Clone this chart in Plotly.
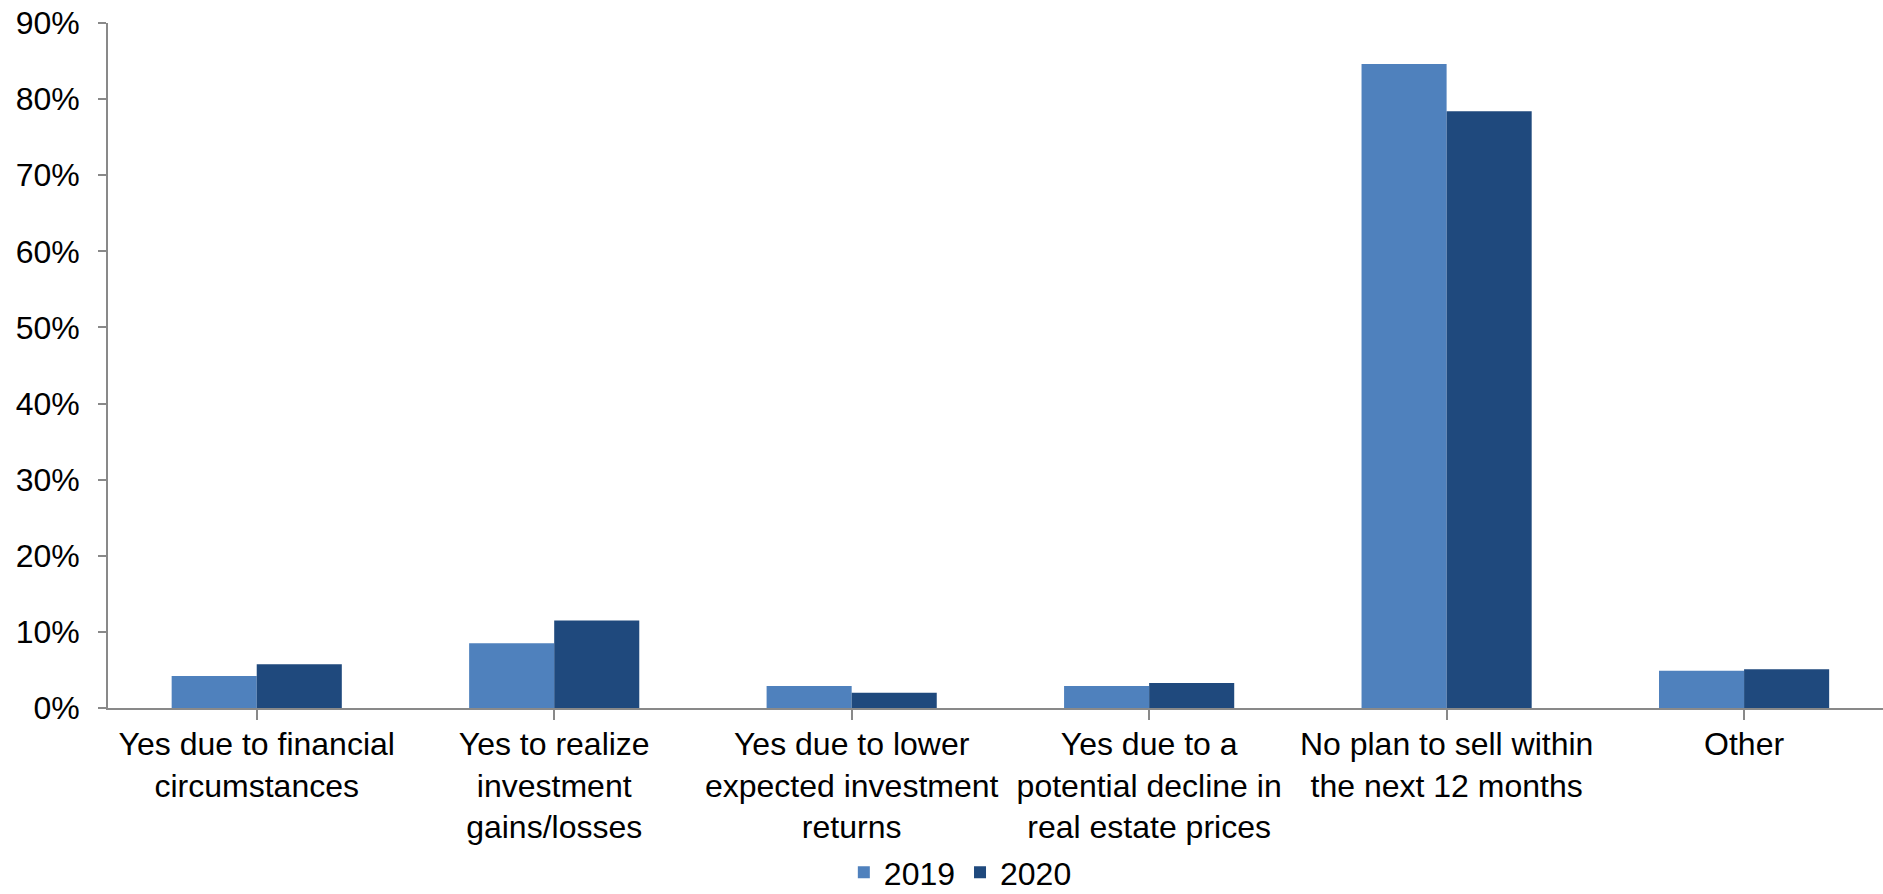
import plotly.graph_objects as go

# Survey: plans to sell property within the next 12 months
categories = [
    "Yes due to financial<br>circumstances",
    "Yes to realize<br>investment<br>gains/losses",
    "Yes due to lower<br>expected investment<br>returns",
    "Yes due to a<br>potential decline in<br>real estate prices",
    "No plan to sell within<br>the next 12 months",
    "Other",
]
share_2019 = [4.2, 8.5, 2.9, 2.9, 84.6, 4.9]
share_2020 = [5.75, 11.5, 2.0, 3.3, 78.4, 5.1]
y_ticks = [0, 10, 20, 30, 40, 50, 60, 70, 80, 90]

FONT = "Liberation Sans, Arial, sans-serif"
AXIS_GREY = "#898989"
W, H = 1883, 894
FS = 32

x_idx = list(range(len(categories)))

fig = go.Figure()
fig.add_trace(go.Bar(name="2019", x=x_idx, y=share_2019,
                     marker=dict(color="#4F81BD", line=dict(width=0))))
fig.add_trace(go.Bar(name="2020", x=x_idx, y=share_2020,
                     marker=dict(color="#1F497D", line=dict(width=0))))

fig.update_layout(
    width=W, height=H, autosize=False,
    margin=dict(l=108, r=0, t=23, b=186, pad=0),
    paper_bgcolor="white", plot_bgcolor="white",
    barmode="group", bargap=0.428, bargroupgap=0,
    font=dict(family=FONT, size=FS, color="black"),
    showlegend=True,
    legend=dict(orientation="h", xref="container", yref="container",
                x=0.51, y=0.024, xanchor="center", yanchor="middle",
                font=dict(size=FS), bgcolor="rgba(0,0,0,0)"),
)

fig.update_xaxes(
    range=[-0.5, 5.467],
    automargin=False,
    tickmode="array", tickvals=x_idx, ticktext=categories,
    tickson="boundaries", ticks="outside", ticklen=10,
    tickwidth=1.7, tickcolor=AXIS_GREY,
    showline=True, linecolor=AXIS_GREY, linewidth=1.7,
    showgrid=False, zeroline=False,
    ticklabelstandoff=-3,
    tickfont=dict(size=FS, family=FONT, color="black"),
    tickangle=0,
)
fig.update_yaxes(
    range=[0, 90],
    automargin=False,
    tickmode="array", tickvals=y_ticks,
    ticktext=[f"{v}%" for v in y_ticks],
    ticks="outside", ticklen=8, tickwidth=1.7, tickcolor=AXIS_GREY,
    showline=True, linecolor=AXIS_GREY, linewidth=1.7,
    showgrid=False, zeroline=False,
    ticklabelstandoff=12,
    tickfont=dict(size=FS, family=FONT, color="black"),
)

fig.write_html("out.html")
